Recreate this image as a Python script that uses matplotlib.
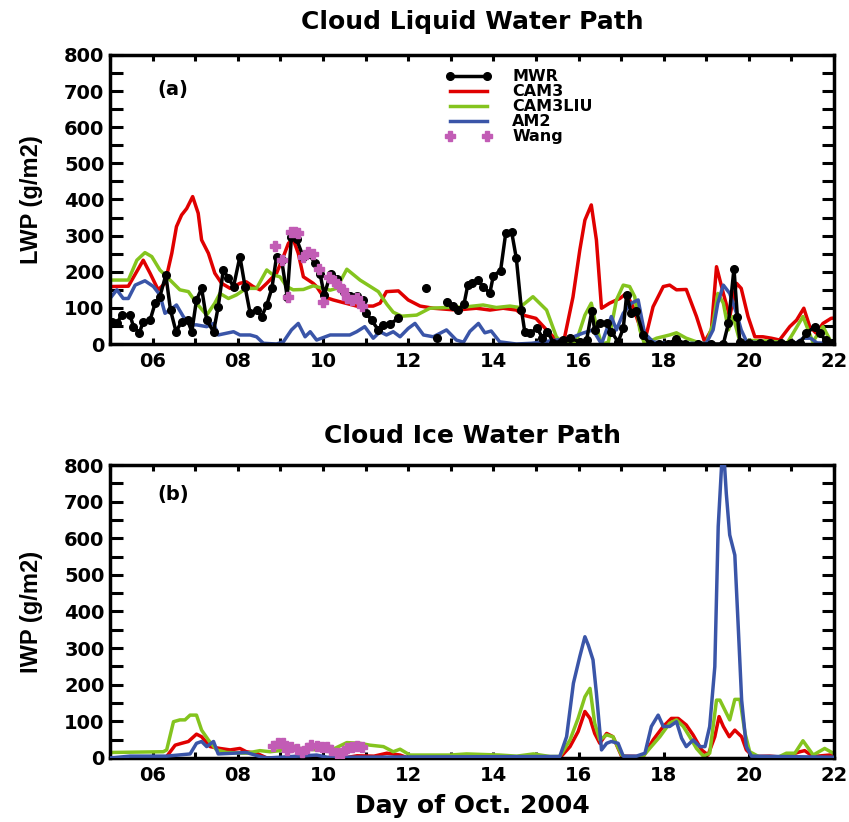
import numpy as np
import matplotlib

matplotlib.use("Agg")
import matplotlib.pyplot as plt
from matplotlib.ticker import MultipleLocator

nan = np.nan

# ---- Cloud liquid water path (panel a) ----
MWR_LWP_DAY = [5.04, 5.16, 5.27, 5.47, 5.55, 5.69, 5.78, 5.94, 6.06, 6.17, 6.31, 6.42, 6.55, 6.68,
               6.82, 6.92, 7.03, 7.15, 7.27, 7.43, 7.54, 7.66, 7.78, 7.90, 8.05, 8.17, 8.29, 8.44,
               8.56, 8.68, 8.80, 8.91, 9.03, 9.16, 9.26, 9.38, 9.54, 9.66, 9.81, 9.93, 10.03, 10.18,
               10.34, 10.50, 10.64, 10.80, 10.95, 11.02, 11.14, 11.30, 11.41, 11.57, 11.77, 12.10,
               12.42, 12.55, 12.67, 12.80, 12.92, 13.06, 13.18, 13.31, 13.40, 13.49, 13.65, 13.76,
               13.92, 14.00, 14.17, 14.29, 14.43, 14.54, 14.66, 14.74, 14.86, 15.03, 15.15, 15.27,
               15.41, 15.56, 15.64, 15.80, 16.03, 16.19, 16.31, 16.38, 16.50, 16.66, 16.77, 16.93,
               17.05, 17.13, 17.24, 17.36, 17.52, 17.67, 17.90, 18.10, 18.30, 18.50, 18.80, 19.10,
               19.40, 19.52, 19.65, 19.73, 19.79, 20.00, 20.25, 20.50, 20.75, 21.00, 21.20, 21.35,
               21.55, 21.67, 21.80, 21.95]
MWR_LWP = [62, 57, 80, 80, 48, 31, 62, 66, 113, 131, 191, 94, 34, 62,
           66, 34, 122, 154, 66, 34, 103, 205, 182, 159, 242, 159, 85, 94,
           76, 108, 154, 242, 232, 131, 297, 290, 240, 250, 225, 195, 136, 195,
           180, 145, 134, 134, 122, 85, 66, 39, 53, 55, 71, nan,
           154, nan, 16, nan, 117, 105, 94, 110, 163, 168, 177, 157,
           142, 189, 203, 306, 310, 237, 95, 32, 30, 43, 18, 34,
           4, 2, 11, 16, 6, 11, 90, 39, 57, 57, 34, 6,
           43, 136, 85, 90, 25, 0, 0, 0, 14, 0, 0, 0,
           0, 57, 209, 76, 6, 2, 4, 2, 3, 4, 2, 30,
           48, 30, 10, 4]

CAM3_LWP_DAY = [5.0, 5.43, 5.78, 5.94, 6.13, 6.29, 6.45, 6.56, 6.68, 6.80, 6.94, 7.07, 7.15, 7.31,
                7.46, 7.62, 7.82, 8.05, 8.20, 8.36, 8.52, 8.68, 8.91, 9.07, 9.19, 9.30, 9.42, 9.54,
                9.77, 9.85, 10.01, 10.24, 10.40, 10.79, 11.18, 11.34, 11.49, 11.77, 12.00, 12.28,
                12.59, 13.13, 13.60, 13.92, 14.23, 14.54, 14.70, 15.00, 15.25, 15.48, 15.64, 15.87,
                16.03, 16.15, 16.30, 16.42, 16.54, 16.73, 16.97, 17.12, 17.28, 17.44, 17.60, 17.75,
                17.99, 18.14, 18.30, 18.53, 18.77, 18.96, 19.12, 19.24, 19.40, 19.55, 19.71, 19.82,
                19.98, 20.14, 20.33, 20.53, 20.72, 20.96, 21.12, 21.29, 21.43, 21.58, 21.74, 21.93,
                22.0]
CAM3_LWP = [159, 160, 232, 196, 150, 168, 251, 325, 357, 375, 408, 362, 288, 251,
            196, 168, 154, 168, 172, 159, 150, 168, 196, 242, 279, 290, 251, 186,
            168, 159, 131, 122, 117, 105, 105, 113, 145, 147, 122, 105,
            99, 94, 99, 94, 99, 94, 80, 71, 39, 11, 0, 130,
            260, 343, 385, 288, 99, 113, 126, 140, 103, 48, 30, 103,
            159, 163, 150, 151, 76, 6, 39, 214, 140, 76, 168, 154,
            76, 20, 20, 16, 11, 48, 66, 99, 48, 30, 57, 71,
            72]

LIU_LWP_DAY = [5.0, 5.43, 5.63, 5.82, 5.98, 6.17, 6.41, 6.64, 6.84, 7.03, 7.27, 7.46, 7.58, 7.78,
               7.97, 8.20, 8.44, 8.68, 8.83, 8.99, 9.15, 9.30, 9.54, 9.77, 10.00, 10.17, 10.32,
               10.56, 10.87, 11.18, 11.30, 11.50, 11.65, 11.85, 12.20, 12.51, 12.90, 13.37, 13.76,
               14.07, 14.39, 14.62, 14.93, 15.25, 15.48, 15.64, 15.95, 16.15, 16.30, 16.42, 16.54,
               16.70, 16.89, 17.05, 17.20, 17.32, 17.44, 17.55, 17.83, 18.14, 18.30, 18.53, 18.77,
               19.00, 19.16, 19.27, 19.40, 19.52, 19.63, 19.79, 20.00, 20.50, 20.90, 21.04, 21.27,
               21.50, 21.74, 21.93, 22.0]
LIU_LWP = [177, 177, 232, 253, 242, 205, 177, 150, 145, 113, 80, 113, 140, 126,
           136, 154, 154, 205, 191, 186, 159, 150, 151, 161, 154, 149, 154,
           207, 177, 154, 145, 110, 88, 77, 80, 99, 101, 103, 108,
           101, 105, 101, 131, 94, 20, 0, 8, 80, 113, 48, 0,
           5, 122, 163, 159, 131, 39, 0, 16, 25, 31, 16, 6,
           0, 57, 140, 113, 39, 76, 6, 10, 8, 3, 30, 76,
           6, 48, 6, 5]

AM2_LWP_DAY = [5.0, 5.16, 5.31, 5.43, 5.59, 5.82, 6.02, 6.17, 6.29, 6.41, 6.56, 6.72, 6.88, 7.03,
               7.27, 7.43, 7.54, 7.74, 7.90, 8.05, 8.29, 8.44, 8.60, 8.91, 9.07, 9.26, 9.42, 9.58,
               9.70, 9.85, 10.17, 10.63, 10.79, 10.98, 11.18, 11.34, 11.49, 11.65, 11.81, 12.00,
               12.16, 12.36, 12.59, 12.90, 13.13, 13.30, 13.45, 13.65, 13.80, 13.95, 14.15, 14.54,
               14.90, 15.30, 15.80, 16.10, 16.34, 16.54, 16.77, 16.89, 17.05, 17.24, 17.40, 17.55,
               17.75, 18.00, 19.00, 19.16, 19.27, 19.40, 19.55, 19.71, 19.82, 19.95, 20.50, 21.10,
               21.27, 21.45, 21.60, 22.0]
AM2_LWP = [126, 150, 126, 126, 163, 175, 159, 136, 85, 94, 108, 76, 53, 53,
           48, 57, 25, 30, 34, 25, 25, 20, 2, 0, 6, 39, 57, 20,
           34, 11, 25, 25, 34, 48, 16, 34, 25, 34, 20, 43,
           57, 25, 20, 39, 11, 5, 35, 57, 31, 36, 6, 0,
           2, 8, 16, 30, 39, 0, 76, 39, 85, 113, 122, 30,
           6, 2, 2, 39, 113, 163, 140, 85, 39, 6, 2, 2,
           16, 16, 3, 2]

WANG_LWP_DAY = [8.88, 9.03, 9.19, 9.26, 9.34, 9.42, 9.54, 9.65, 9.77, 9.91, 10.00, 10.14, 10.26,
                10.38, 10.46, 10.56, 10.67, 10.79, 10.91]
WANG_LWP = [270, 232, 131, 311, 311, 306, 240, 254, 248, 209, 117, 186, 175,
            160, 149, 126, 122, 126, 105]

# ---- Cloud ice water path (panel b) ----
CAM3_IWP_DAY = [5.0, 6.25, 6.33, 6.53, 6.68, 6.84, 7.03, 7.15, 7.35, 7.58, 7.82, 8.05, 8.20, 8.44,
                8.68, 10.50, 10.80, 11.20, 11.50, 11.81, 12.00, 15.56, 15.80, 15.99, 16.15, 16.27,
                16.38, 16.50, 16.66, 16.81, 17.01, 17.52, 17.75, 17.99, 18.18, 18.34, 18.53, 18.69,
                18.89, 19.04, 19.20, 19.30, 19.40, 19.54, 19.67, 19.83, 19.94, 20.10, 20.49, 20.80,
                21.20, 21.31, 21.51, 21.90, 22.0]
CAM3_IWP = [0, 0, 4, 35, 40, 45, 65, 58, 31, 26, 22, 26, 17, 13,
            0, 0, 6, 5, 13, 8, 0, 0, 31, 72, 127, 108,
            67, 40, 67, 58, 5, 4, 49, 86, 108, 108, 90, 63,
            22, 8, 58, 113, 86, 58, 76, 58, 22, 4, 5, 2,
            17, 20, 4, 8, 6]

LIU_IWP_DAY = [5.0, 6.25, 6.33, 6.49, 6.64, 6.76, 6.88, 7.03, 7.15, 7.31, 7.50, 7.74, 8.20, 8.52,
               8.76, 8.99, 9.15, 9.30, 9.46, 9.85, 10.24, 10.56, 10.87, 11.10, 11.42, 11.65, 11.81,
               12.04, 12.98, 13.37, 14.15, 14.55, 14.94, 15.33, 15.56, 15.80, 15.99, 16.15, 16.27,
               16.38, 16.50, 16.66, 16.81, 17.01, 17.20, 17.52, 17.67, 17.91, 18.14, 18.30, 18.46,
               18.61, 18.77, 18.93, 19.08, 19.24, 19.32, 19.55, 19.67, 19.79, 19.91, 20.02, 20.26,
               20.65, 20.88, 21.08, 21.27, 21.51, 21.78, 21.98]
LIU_IWP = [15, 17, 22, 99, 104, 104, 117, 117, 76, 49, 22, 15, 13, 20,
           17, 20, 31, 33, 26, 22, 24, 42, 40, 35, 31, 17, 24,
           8, 8, 11, 8, 5, 11, 4, 4, 49, 108, 167, 190,
           95, 49, 63, 58, 8, 0, 5, 26, 58, 95, 104, 86,
           58, 26, 5, 13, 158, 158, 104, 160, 160, 67, 17, 2,
           0, 13, 13, 47, 8, 26, 13]

AM2_IWP_DAY = [5.0, 5.47, 6.33, 6.88, 7.03, 7.15, 7.27, 7.43, 7.54, 7.90, 8.20, 8.52, 8.70, 9.85,
               10.10, 15.56, 15.72, 15.88, 16.03, 16.15, 16.23, 16.34, 16.42, 16.54, 16.66, 16.77,
               16.93, 17.05, 17.36, 17.56, 17.71, 17.87, 17.99, 18.14, 18.30, 18.42, 18.53, 18.69,
               18.85, 18.97, 19.08, 19.20, 19.28, 19.36, 19.42, 19.47, 19.55, 19.67, 19.75, 19.83,
               19.94, 20.06, 22.0]
AM2_IWP = [0, 5, 5, 11, 40, 45, 31, 45, 11, 13, 15, 4, 0, 8,
           2, 4, 58, 204, 277, 331, 308, 268, 177, 22, 40, 45,
           40, 5, 5, 13, 86, 117, 86, 86, 99, 54, 31, 49,
           31, 31, 86, 249, 632, 800, 815, 722, 609, 554, 359, 158,
           31, 5, 2]

WANG_IWP_DAY = [8.83, 8.95, 9.07, 9.15, 9.26, 9.38, 9.50, 9.62, 9.73, 9.85, 9.97, 10.09, 10.20,
                10.32, 10.44, 10.56, 10.67, 10.79, 10.91]
WANG_IWP = [33, 42, 40, 22, 29, 24, 17, 26, 35, 33, 31, 29, 22,
            13, 13, 26, 31, 34, 31]

DAY_TICKS = list(range(5, 23))
DAY_LABELS = [f"{d:02d}" if d % 2 == 0 else "" for d in DAY_TICKS]

RED = "#e00000"
GREEN = "#84c41e"
BLUE = "#3a55a8"
MAGENTA = "#c25cb5"

plt.rcParams["font.family"] = ["DejaVu Sans"]
plt.rcParams["font.weight"] = "bold"
plt.rcParams["axes.titleweight"] = "bold"
plt.rcParams["axes.labelweight"] = "bold"


def style_axes(ax, ylabel):
    ax.set_xlim(5, 22)
    ax.set_ylim(0, 800)
    ax.set_xticks(DAY_TICKS)
    ax.set_xticklabels(DAY_LABELS)
    ax.yaxis.set_major_locator(MultipleLocator(100))
    ax.yaxis.set_minor_locator(MultipleLocator(50))
    ax.tick_params(axis="both", which="both", direction="in", top=True, right=True,
                   width=2.2, labelsize=14)
    ax.tick_params(axis="x", length=4, pad=6)
    ax.tick_params(axis="y", which="both", length=9, pad=4)
    for spine in ax.spines.values():
        spine.set_linewidth(2.5)
    ax.set_ylabel(ylabel, fontsize=17, family="Liberation Sans")
    ax.yaxis.set_label_coords(-0.093, 0.5)


fig = plt.figure(figsize=(8.49, 8.22), dpi=100)
ax1 = fig.add_axes([0.1296, 0.5815, 0.8528, 0.3516])
ax2 = fig.add_axes([0.1296, 0.0779, 0.8528, 0.3564])

# panel (a)
ax1.plot(CAM3_LWP_DAY, CAM3_LWP, color=RED, lw=2.5, label="CAM3", zorder=2)
ax1.plot(LIU_LWP_DAY, LIU_LWP, color=GREEN, lw=2.5, label="CAM3LIU", zorder=2)
ax1.plot(AM2_LWP_DAY, AM2_LWP, color=BLUE, lw=2.5, label="AM2", zorder=2)
ax1.plot(MWR_LWP_DAY, MWR_LWP, color="black", lw=2.5, marker="o", ms=5.5, label="MWR", zorder=3)
ax1.plot(WANG_LWP_DAY, WANG_LWP, ls="none", marker="P", ms=7, color=MAGENTA, label="Wang",
         zorder=4)
style_axes(ax1, "LWP (g/m2)")
ax1.set_title("Cloud Liquid Water Path", fontsize=18, pad=19)
ax1.text(0.066, 0.879, "(a)", transform=ax1.transAxes, fontsize=14, va="center")

handles, labels = ax1.get_legend_handles_labels()
order = [labels.index(name) for name in ["MWR", "CAM3", "CAM3LIU", "AM2", "Wang"]]
ax1.legend([handles[i] for i in order], [labels[i] for i in order],
           loc="upper left", bbox_to_anchor=(0.4627, 0.95), frameon=False,
           fontsize=11.5, handlelength=2.9, handletextpad=1.3, labelspacing=0.0,
           borderpad=0, borderaxespad=0, numpoints=2)

# panel (b)
ax2.plot(CAM3_IWP_DAY, CAM3_IWP, color=RED, lw=2.5, zorder=2)
ax2.plot(LIU_IWP_DAY, LIU_IWP, color=GREEN, lw=2.5, zorder=2)
ax2.plot(AM2_IWP_DAY, AM2_IWP, color=BLUE, lw=2.5, zorder=3)
ax2.plot(WANG_IWP_DAY, WANG_IWP, ls="none", marker="P", ms=7, color=MAGENTA, zorder=4)
style_axes(ax2, "IWP (g/m2)")
ax2.set_title("Cloud Ice Water Path", fontsize=18, pad=16)
ax2.text(0.066, 0.898, "(b)", transform=ax2.transAxes, fontsize=14, va="center")
ax2.set_xlabel("Day of Oct. 2004", fontsize=18)
ax2.xaxis.set_label_coords(0.5, -0.122)

fig.savefig("out.png", dpi=100)
